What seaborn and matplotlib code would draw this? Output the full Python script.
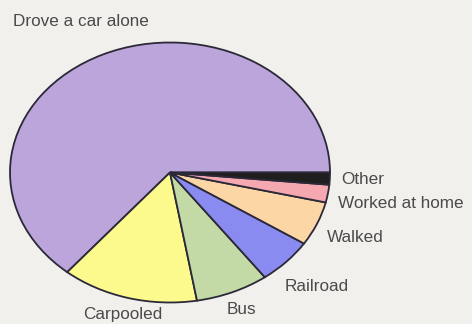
import matplotlib
matplotlib.use("Agg")
import matplotlib.pyplot as plt
import seaborn as sns

# Means of transportation to work (share of workers, %)
modes = ["Drove a car alone", "Carpooled", "Bus", "Railroad", "Walked",
         "Worked at home", "Other"]
shares = [63.9, 13.8, 7.4, 5.7, 5.5, 2.2, 1.5]
colors = ["#bba5da", "#fcfa8c", "#c4daa6", "#898bf0", "#fdd6a6", "#f5a8af", "#1e1e1e"]

# label anchor points in pixels (left edge, baseline) on a 472x324 canvas
label_px = {
    "Drove a car alone": (13, 26),
    "Other": (341, 184),
    "Worked at home": (338, 208),
    "Walked": (327, 242),
    "Railroad": (285, 291),
    "Bus": (227, 314),
    "Carpooled": (83, 319),
}

sns.set_theme(style="white")
plt.rcParams["font.family"] = ["Liberation Sans", "DejaVu Sans"]

W, H = 472, 324
bg = "#f2f0ed"
fig = plt.figure(figsize=(W / 100, H / 100), dpi=100, facecolor=bg)

# elliptical pie: centre (170, 173) px, radii 160 x 130 px
cx, cy, rx, ry = 170, 172.5, 160, 130
ax = fig.add_axes([(cx - rx) / W, 1 - (cy + ry) / H, 2 * rx / W, 2 * ry / H])
ax.set_facecolor(bg)
ax.pie(shares, colors=colors, startangle=0, counterclock=True,
       wedgeprops=dict(edgecolor="#2b2838", linewidth=1.3))
ax.set_aspect("auto")
ax.set_xlim(-1.0, 1.0)
ax.set_ylim(-1.0, 1.0)
ax.axis("off")

for name in modes:
    px, py = label_px[name]
    fig.text(px / W, 1 - py / H, name, ha="left", va="baseline",
             fontsize=12.3, color="#4a4a4a")

fig.savefig("out.png", dpi=100, facecolor=bg)
